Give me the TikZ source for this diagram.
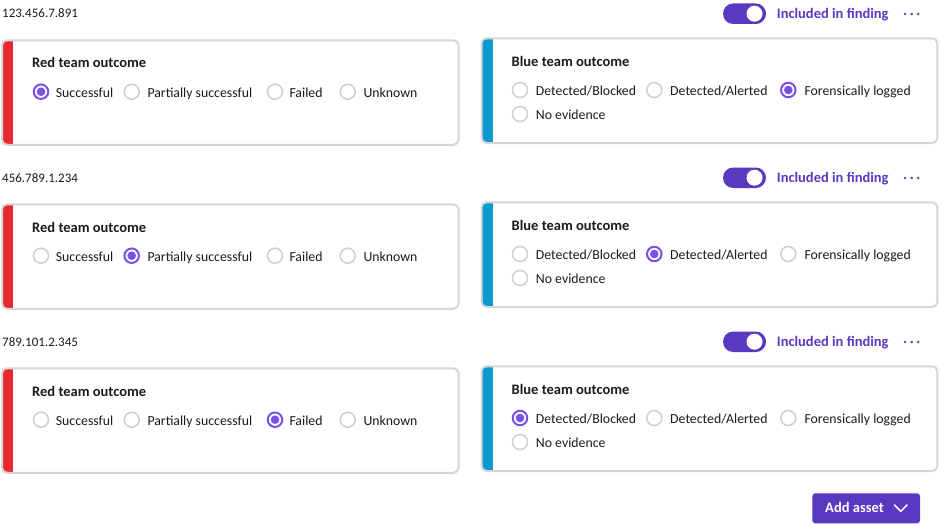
\documentclass[tikz,border=0pt]{standalone}
\usepackage{fontspec}
\setmainfont{Carlito}
\definecolor{txt}{HTML}{1B1B1B}
\definecolor{brd}{HTML}{D6D6D6}
\definecolor{rgray}{HTML}{CFCFCF}
\definecolor{rpurple}{HTML}{7A50E6}
\definecolor{tpurple}{HTML}{5A38C0}
\definecolor{redbar}{HTML}{E8282E}
\definecolor{bluebar}{HTML}{0A9AD0}
\newcommand\fsl{/}
\newcommand\regfont{\fontsize{13.8}{16}\selectfont}
\newcommand\boldfont{\fontsize{14.5}{17}\selectfont\bfseries}
\tikzset{
  lbl/.style={anchor=base west, inner sep=0pt, text=txt, font=\regfont},
  ttl/.style={anchor=base west, inner sep=0pt, text=txt, font=\boldfont},
  iplbl/.style={anchor=base west, inner sep=0pt, text=txt, font=\fontsize{13}{15}\selectfont},
  radiooff/.style={circle, draw=rgray, line width=1.5pt, fill=white, minimum size=15pt, inner sep=0pt},
  radioon/.style={circle, draw=rpurple, line width=2pt, fill=white, minimum size=14.5pt, inner sep=0pt,
     path picture={\fill[rpurple] (path picture bounding box.center) circle (4.3pt);}},
  cardborder/.style={draw=brd, line width=2pt, rounded corners=5pt},
}
\begin{document}
\begin{tikzpicture}[x=1pt,y=-1pt]
\useasboundingbox (0,0) rectangle (941,524);
\fill[white] (0,0) rectangle (941,524);
\foreach \r/\ip/\ls/\bs in {0/123.456.7.891/1/3, 1/456.789.1.234/2/2, 2/789.101.2.345/3/1}{
 \begin{scope}[shift={(0,\r*164)}]
  % address label
  \node[iplbl] (ip\r) at (2,18) {\ip};
  % toggle
  \fill[tpurple, rounded corners=10.2pt] (723,3.5) rectangle (766,24);
  \node[circle, fill=white, minimum size=16pt, inner sep=0pt] (knob\r) at (754.5,13.7) {};
  \node[anchor=base west, inner sep=0pt, text=tpurple, font=\boldfont] (inc\r) at (776.7,18.3) {Included in finding};
  \foreach \dx in {905,911.7,918.3}{\fill[tpurple] (\dx,14) circle (1.4pt);}
  % red card
  \fill[white, rounded corners=5pt] (2,40.3) rectangle (458.5,144.8);
  \begin{scope}
   \clip[rounded corners=5pt] (2,40.3) rectangle (458.5,144.8);
   \fill[redbar] (0,38) rectangle (13.3,147);
  \end{scope}
  \draw[cardborder] (2,40.3) rectangle (458.5,144.8);
  \node[ttl] (redt\r) at (32,68) {Red team outcome};
  \foreach \i/\cx/\lx/\lab in {1/41/55.7/Successful, 2/131.7/147.3/Partially successful, 3/275/289.3/Failed, 4/347.7/363.3/Unknown}{
    \ifnum\i=\ls\relax\tikzset{cur/.style={radioon}}\else\tikzset{cur/.style={radiooff}}\fi
    \node[cur] (rr\r\i) at (\cx,91.7) {};
    \node[lbl] (rl\r\i) at (\lx,97.5) {\lab};
  }
  % blue card
  \fill[white, rounded corners=5pt] (481.5,38.3) rectangle (937.3,143);
  \begin{scope}
   \clip[rounded corners=5pt] (481.5,38.3) rectangle (937.3,143);
   \fill[bluebar] (479,36) rectangle (492.7,146);
  \end{scope}
  \draw[cardborder] (481.5,38.3) rectangle (937.3,143);
  \node[ttl] (bluet\r) at (511.5,66.7) {Blue team outcome};
  \foreach \i/\cx/\cy/\lx/\lab in {1/520/90/535.7/Detected\fsl Blocked, 2/654.3/90/670/Detected\fsl Alerted, 3/788.3/90/804.3/Forensically logged, 4/520/114/535.7/No evidence}{
    \ifnum\i=\bs\relax\tikzset{cur/.style={radioon}}\else\tikzset{cur/.style={radiooff}}\fi
    \node[cur] (br\r\i) at (\cx,\cy) {};
    \node[lbl] (bl\r\i) at (\lx,\cy+5.3) {\lab};
  }
 \end{scope}
}
% add asset button
\fill[tpurple, rounded corners=3pt] (812.3,493.3) rectangle (920,523.3);
\node[anchor=base west, inner sep=0pt, text=white, font=\boldfont] (add) at (825,512.7) {Add asset};
\coordinate (chl) at (894.5,505);
\coordinate (chm) at (900.8,511.3);
\coordinate (chr) at (907,505);
\draw[white, line width=1.5pt, line cap=round, line join=round] (chl) -- (chm) -- (chr);
\end{tikzpicture}
\end{document}
